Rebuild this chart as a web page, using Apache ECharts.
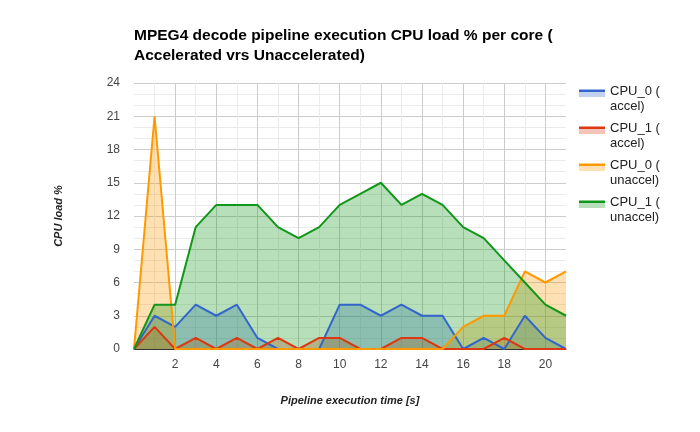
<!DOCTYPE html>
<html><head><meta charset="utf-8">
<script src="https://cdn.jsdelivr.net/npm/echarts@6/dist/echarts.min.js"></script>
<style>html,body{margin:0;padding:0;background:#fff}#c{width:700px;height:432px}</style>
</head><body><div id="c"></div>
<script>
const times = [0,1,2,3,4,5,6,7,8,9,10,11,12,13,14,15,16,17,18,19,20,21];
const cpu0Accel   = [0,3,2,4,3,4,1,0,0,0,4,4,3,4,3,3,0,1,0,3,1,0];
const cpu1Accel   = [0,2,0,1,0,1,0,1,0,1,1,0,0,1,1,0,0,0,1,0,0,0];
const cpu0Unaccel = [0,21,0,0,0,0,0,0,0,0,0,0,0,0,0,0,2,3,3,7,6,7];
const cpu1Unaccel = [0,4,4,11,13,13,13,11,10,11,13,14,15,13,14,13,11,10,8,6,4,3];
const seriesNames = ['CPU_0 (\naccel)','CPU_1 (\naccel)','CPU_0 (\nunaccel)','CPU_1 (\nunaccel)'];
const seriesData = [cpu0Accel, cpu1Accel, cpu0Unaccel, cpu1Unaccel];
const colors = ['#3366cc','#dc3912','#ff9900','#109618'];
const rgba = (hex,a)=>{const n=parseInt(hex.slice(1),16);return `rgba(${n>>16},${(n>>8)&255},${n&255},${a})`;};
const FONT = 'Arial, "Liberation Sans", sans-serif';

const chart = echarts.init(document.getElementById('c'));
chart.setOption({
  animation:false,
  textStyle:{fontFamily:FONT},
  title:{
    text:'MPEG4 decode pipeline execution CPU load % per core (\nAccelerated vrs Unaccelerated)',
    left:129, top:21,
    textStyle:{fontFamily:FONT, fontSize:15.5, fontWeight:'bold', color:'#000', lineHeight:20}
  },
  legend:{
    orient:'vertical', left:574, top:79,
    itemWidth:26, itemHeight:19, itemGap:7,
    textStyle:{fontFamily:FONT, fontSize:13, color:'#222', lineHeight:15, padding:[0,0,0,0]},
    data: seriesNames.map((n,i)=>({
      name:n,
      icon:'rect',
      itemStyle:{color:new echarts.graphic.LinearGradient(0,0,0,1,[
        {offset:0,color:colors[i]},{offset:0.13,color:colors[i]},
        {offset:0.13,color:rgba(colors[i],0.3)},{offset:0.37,color:rgba(colors[i],0.3)},
        {offset:0.37,color:'rgba(255,255,255,0)'},{offset:1,color:'rgba(255,255,255,0)'}])}
    }))
  },
  grid:{left:134, right:134, top:83, bottom:83},
  xAxis:{
    type:'value', min:0, max:21, interval:2,
    name:'Pipeline execution time [s]', nameLocation:'middle', nameGap:46,
    nameTextStyle:{fontFamily:FONT, fontSize:11, fontStyle:'italic', fontWeight:'bold', color:'#222'},
    axisLine:{show:true, onZero:false, lineStyle:{color:'#333', width:1}},
    axisTick:{show:false},
    axisLabel:{fontFamily:FONT, fontSize:12, color:'#444', margin:10, showMinLabel:false, showMaxLabel:false,
      formatter:v=> (v===0||v===21)?'':String(v)},
    splitLine:{show:true, showMinLine:false, showMaxLine:false, lineStyle:{color:'#cccccc'}},
    minorTick:{show:false, splitNumber:2},
    minorSplitLine:{show:true, lineStyle:{color:'#ebebeb'}}
  },
  yAxis:{
    type:'value', min:0, max:24, interval:3,
    name:'CPU load %', nameLocation:'middle', nameGap:70,
    nameTextStyle:{fontFamily:FONT, fontSize:11, fontStyle:'italic', fontWeight:'bold', color:'#222'},
    axisLine:{show:false}, axisTick:{show:false},
    axisLabel:{fontFamily:FONT, fontSize:12, color:'#444', margin:14},
    splitLine:{show:true, lineStyle:{color:'#cccccc'}},
    minorTick:{show:false, splitNumber:3},
    minorSplitLine:{show:true, lineStyle:{color:'#ebebeb'}}
  },
  series: seriesData.map((d,i)=>({
    name:seriesNames[i], type:'line',
    data: times.map((t,k)=>[t,d[k]]),
    showSymbol:false, symbol:'none',
    lineStyle:{color:colors[i], width:2},
    itemStyle:{color:colors[i]},
    areaStyle:{color:colors[i], opacity:0.3}
  }))
});
</script></body></html>
